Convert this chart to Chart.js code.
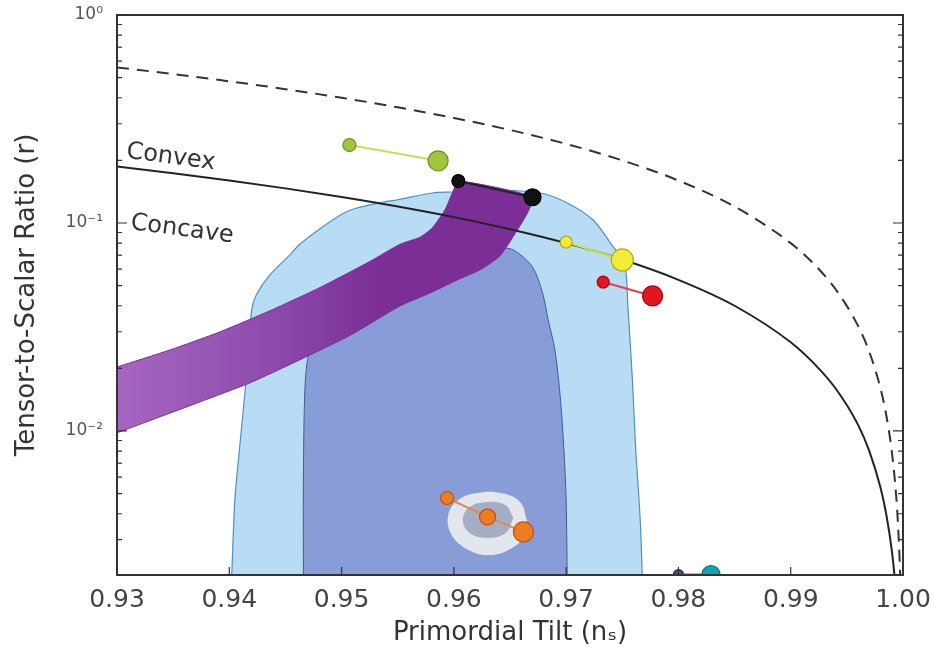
<!DOCTYPE html>
<html>
<head>
    <meta charset="utf-8">
    <title>Primordial Tilt vs Tensor-to-Scalar Ratio</title>
    <script src="https://cdn.jsdelivr.net/npm/chart.js@4.4.1/dist/chart.umd.min.js"></script>
    <style>
        html, body { margin: 0; padding: 0; background: #fff; }
    </style>
</head>
<body>
<canvas id="myChart" width="933" height="654"></canvas>

<script>
    // axis ticks
    let xTicks = [0.93, 0.94, 0.95, 0.96, 0.97, 0.98, 0.99, 1.00];
    let yTickValues = [1, 0.1, 0.01];
    let yTickLabels = ['10⁰', '10⁻¹', '10⁻²'];

    // solid convex/concave boundary and the dashed curve
    let boundaryNs = [0.93, 0.935, 0.94, 0.945, 0.95, 0.955, 0.96, 0.965, 0.97, 0.975, 0.98, 0.985, 0.99, 0.992, 0.994, 0.996, 0.997, 0.998, 0.9985, 0.999, 0.9993, 0.9995];
    let boundaryR = [0.1867, 0.1733, 0.16, 0.1467, 0.1333, 0.12, 0.1067, 0.0933, 0.08, 0.0667, 0.0533, 0.04, 0.0267, 0.0213, 0.016, 0.0107, 0.008, 0.00533, 0.004, 0.00267, 0.00187, 0.00133];
    let dashedNs = [0.93, 0.935, 0.94, 0.945, 0.95, 0.955, 0.96, 0.965, 0.97, 0.975, 0.98, 0.985, 0.99, 0.992, 0.994, 0.996, 0.997, 0.998, 0.9985, 0.999, 0.9993, 0.9995, 0.9997, 0.9998];
    let dashedR = [0.56, 0.52, 0.48, 0.44, 0.40, 0.36, 0.32, 0.28, 0.24, 0.20, 0.16, 0.12, 0.08, 0.064, 0.048, 0.032, 0.024, 0.016, 0.012, 0.008, 0.0056, 0.004, 0.0024, 0.0016];

    // 95% (light) and 68% (dark) contours
    let outerNs = [0.9402, 0.9405, 0.9409, 0.9415, 0.9420, 0.9424, 0.9436, 0.9454, 0.9463, 0.9492, 0.9508, 0.9537, 0.9549, 0.9581, 0.9599, 0.9632, 0.9677, 0.9701, 0.9724, 0.9742, 0.9752, 0.9755, 0.9759, 0.9762, 0.9766, 0.9768];
    let outerR = [0.0019, 0.0047, 0.0081, 0.0176, 0.0382, 0.0451, 0.0562, 0.0702, 0.0793, 0.1034, 0.1155, 0.1262, 0.1290, 0.1394, 0.1409, 0.1441, 0.1394, 0.1248, 0.1034, 0.0767, 0.0642, 0.0395, 0.0176, 0.0081, 0.0037, 0.0019];
    let innerNs = [0.9466, 0.9466, 0.9467, 0.9469, 0.9474, 0.9490, 0.9525, 0.9570, 0.9614, 0.9641, 0.9653, 0.9670, 0.9679, 0.9684, 0.9690, 0.9695, 0.9698, 0.9700, 0.9701];
    let innerR = [0.0019, 0.0058, 0.0141, 0.0208, 0.0274, 0.0427, 0.0532, 0.0664, 0.0742, 0.0758, 0.0742, 0.0615, 0.0461, 0.0342, 0.0245, 0.0141, 0.0081, 0.0047, 0.0019];

    // purple band
    let bandNs = [0.9300, 0.9347, 0.9392, 0.9436, 0.9481, 0.9525, 0.9552, 0.9570, 0.9581, 0.9592, 0.9599, 0.9604, 0.9670, 0.9666, 0.9656, 0.9641, 0.9623, 0.9603, 0.9579, 0.9552, 0.9508, 0.9463, 0.9418, 0.9374, 0.9329, 0.9300];
    let bandR = [0.0203, 0.0245, 0.0300, 0.0378, 0.0490, 0.0652, 0.0790, 0.0855, 0.0950, 0.1155, 0.1409, 0.1591, 0.1334, 0.1129, 0.0915, 0.0694, 0.0594, 0.0532, 0.0461, 0.0399, 0.0289, 0.0220, 0.0170, 0.0138, 0.0112, 0.0098];

    // grey blob round the orange points
    let blobOuterNs = [0.9665, 0.9659, 0.9641, 0.9622, 0.9604, 0.9595, 0.9598, 0.9613, 0.9632, 0.9652, 0.9663, 0.9665];
    let blobOuterR = [0.00373, 0.00456, 0.00504, 0.00504, 0.00466, 0.00395, 0.00316, 0.00268, 0.00253, 0.00274, 0.00316, 0.00373];
    let blobInnerNs = [0.9653, 0.9646, 0.9630, 0.9614, 0.9608, 0.9614, 0.9630, 0.9646, 0.9653];
    let blobInnerR = [0.00382, 0.00441, 0.00456, 0.00431, 0.00373, 0.00323, 0.00306, 0.00323, 0.00382];

    // model points
    let greenNs = [0.9507, 0.9586];
    let greenR = [0.237, 0.199];
    let blackNs = [0.9604, 0.9670];
    let blackR = [0.159, 0.133];
    let yellowNs = [0.9700, 0.9750];
    let yellowR = [0.081, 0.0664];
    let redNs = [0.9733, 0.9777];
    let redR = [0.052, 0.0446];
    let orangeNs = [0.9594, 0.9630, 0.9662];
    let orangeR = [0.00476, 0.00386, 0.00327];
    let tealNs = [0.9800, 0.9829];
    let tealR = [0.00204, 0.00204];

    // curve labels
    let curveLabels = ['Convex', 'Concave'];
    let curveLabelNs = [0.9348, 0.9358];
    let curveLabelR = [0.207, 0.093];

    function pts(xs, ys) {
        return xs.map(function (x, i) { return {x: x, y: ys[i]}; });
    }

    function markerSet(xs, ys, radii, fill, edge, line) {
        return {
            data: pts(xs, ys), showLine: true, fill: false,
            borderColor: line, borderWidth: 2,
            pointRadius: radii, pointBackgroundColor: fill,
            pointBorderColor: edge, pointBorderWidth: 1.2,
            clip: 0, order: 0
        };
    }

    function bandFill(c) {
        let area = c.chart.chartArea;
        if (!area) return '#7b2f96';
        let g = c.chart.ctx.createLinearGradient(area.left, 0, area.left + 260, 0);
        g.addColorStop(0, '#a566c0');
        g.addColorStop(0.5, '#9150b0');
        g.addColorStop(1, '#7b2f96');
        return g;
    }

    const framePlugin = {
        id: 'frame',
        afterDatasetsDraw(chart) {
            const ctx = chart.ctx, a = chart.chartArea, x = chart.scales.x, y = chart.scales.y;
            ctx.save();
            ctx.strokeStyle = '#333';
            ctx.lineWidth = 2;
            ctx.strokeRect(a.left, a.top, a.right - a.left, a.bottom - a.top);
            ctx.lineWidth = 1.2;
            ctx.beginPath();
            x.ticks.forEach(function (t) {
                let px = x.getPixelForValue(t.value);
                ctx.moveTo(px, a.bottom);
                ctx.lineTo(px, a.bottom - 8);
            });
            y.ticks.forEach(function (t) {
                let e = Math.floor(Math.log10(t.value) + 1e-9);
                let m = t.value / Math.pow(10, e);
                if (Math.abs(m - Math.round(m)) > 1e-4) return;
                let len = Math.round(m) === 1 ? 10 : 5;
                let py = y.getPixelForValue(t.value);
                ctx.moveTo(a.left, py); ctx.lineTo(a.left + len, py);
                ctx.moveTo(a.right, py); ctx.lineTo(a.right - len, py);
            });
            ctx.stroke();

            ctx.fillStyle = '#333';
            ctx.font = '24px "DejaVu Sans"';
            ctx.textAlign = 'center';
            ctx.textBaseline = 'middle';
            curveLabels.forEach(function (s, i) {
                ctx.save();
                ctx.translate(x.getPixelForValue(curveLabelNs[i]), y.getPixelForValue(curveLabelR[i]));
                ctx.rotate(0.13);
                ctx.fillText(s, 0, 0);
                ctx.restore();
            });
            ctx.restore();
        }
    };

    let myChart = new Chart(document.getElementById('myChart'), {
        type: 'line',
        data: {
            datasets: [
                markerSet(greenNs, greenR, [6.5, 10], '#9fc63c', '#6c9228', '#c5dd5c'),
                markerSet(blackNs, blackR, [6.5, 8.5], '#111', '#000', '#222'),
                markerSet(yellowNs, yellowR, [6, 11], '#f2ec36', '#b3a61e', '#d5e04c'),
                markerSet(redNs, redR, [6, 10], '#e2161f', '#a50c12', '#e84048'),
                markerSet(orangeNs, orangeR, [6.5, 8, 10], '#f07b22', '#b8550e', '#e08a52'),
                markerSet(tealNs, tealR, [5, 9], ['#3c5a78', '#19a2b2'], ['#24384c', '#0b7080'], '#19a2b2'),
                {
                    data: pts(boundaryNs, boundaryR), borderColor: '#222', borderWidth: 2,
                    pointRadius: 0, fill: false, cubicInterpolationMode: 'monotone', clip: 0, order: 1
                },
                {
                    data: pts(dashedNs, dashedR), borderColor: '#333', borderWidth: 2, borderDash: [12, 8],
                    pointRadius: 0, fill: false, cubicInterpolationMode: 'monotone', clip: 0, order: 1
                },
                {
                    data: pts(bandNs, bandR), borderColor: '#7b2f96', borderWidth: 1,
                    backgroundColor: bandFill, fill: 'shape', pointRadius: 0, tension: 0.2, clip: 0, order: 3
                },
                {
                    data: pts(blobInnerNs, blobInnerR), borderColor: 'rgba(0,0,0,0)', borderWidth: 0,
                    backgroundColor: '#a6aec3', fill: 'shape', pointRadius: 0, tension: 0.4, clip: 0, order: 4
                },
                {
                    data: pts(blobOuterNs, blobOuterR), borderColor: 'rgba(0,0,0,0)', borderWidth: 0,
                    backgroundColor: '#e3e6ed', fill: 'shape', pointRadius: 0, tension: 0.4, clip: 0, order: 5
                },
                {
                    data: pts(innerNs, innerR), borderColor: '#3d5c9c', borderWidth: 1,
                    backgroundColor: '#889cd7', fill: 'shape', pointRadius: 0, tension: 0.3, clip: 0, order: 6
                },
                {
                    data: pts(outerNs, outerR), borderColor: '#4f8fc4', borderWidth: 1.2,
                    backgroundColor: '#b8dcf4', fill: 'shape', pointRadius: 0, tension: 0.3, clip: 0, order: 7
                }
            ]
        },
        options: {
            responsive: false,
            animation: false,
            layout: {padding: {left: 0, right: 30, top: 15, bottom: 0}},
            plugins: {legend: {display: false}, tooltip: {enabled: false}},
            scales: {
                x: {
                    type: 'linear', min: 0.93, max: 1.0,
                    afterBuildTicks: function (s) { s.ticks = xTicks.map(function (v) { return {value: v}; }); },
                    afterFit: function (s) { s.height = 79; s.paddingLeft = 0; s.paddingRight = 0; },
                    grid: {display: false, drawTicks: false, tickLength: 0},
                    border: {display: false},
                    ticks: {
                        callback: function (v) { return Number(v).toFixed(2); },
                        font: {family: 'DejaVu Sans', size: 25}, color: '#444',
                        padding: 10, maxRotation: 0, autoSkip: false
                    },
                    title: {
                        display: true, text: 'Primordial Tilt (nₛ)', color: '#333',
                        font: {family: 'DejaVu Sans', size: 26}, padding: {top: 0, bottom: 5}
                    }
                },
                y: {
                    type: 'logarithmic', min: 0.00203, max: 1,
                    afterFit: function (s) { s.width = 117; s.paddingTop = 0; s.paddingBottom = 0; },
                    grid: {display: false, drawTicks: false, tickLength: 0},
                    border: {display: false},
                    ticks: {
                        callback: function (v) {
                            let i = yTickValues.findIndex(function (t) { return Math.abs(t - v) / t < 1e-6; });
                            return i >= 0 ? yTickLabels[i] : '';
                        },
                        font: {family: 'DejaVu Sans', size: 17}, color: '#555',
                        padding: 14, autoSkip: false
                    },
                    title: {
                        display: true, text: 'Tensor-to-Scalar Ratio (r)', color: '#333',
                        font: {family: 'DejaVu Sans', size: 26}, padding: {top: 12, bottom: 0}
                    }
                }
            }
        },
        plugins: [framePlugin]
    });
</script>
</body>
</html>
